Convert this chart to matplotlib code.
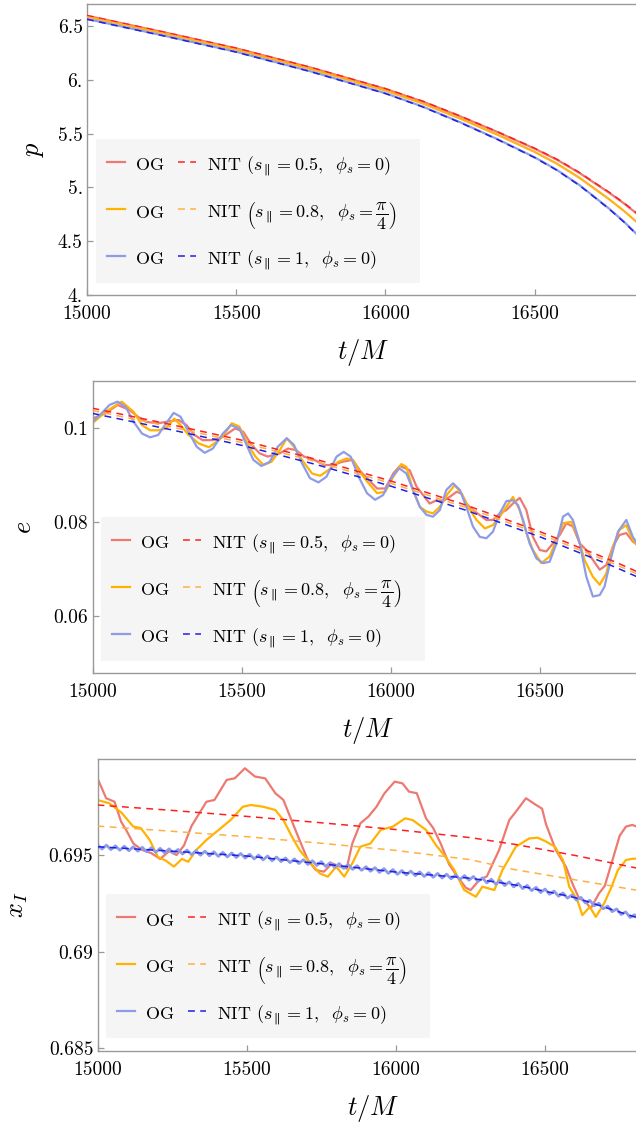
import numpy as np
import matplotlib
matplotlib.use('Agg')
import matplotlib.pyplot as plt
from matplotlib.lines import Line2D
from matplotlib.patches import Rectangle

plt.rcParams['font.family'] = 'serif'
plt.rcParams['font.serif'] = ['cmr10', 'DejaVu Serif']
plt.rcParams['mathtext.fontset'] = 'cm'
plt.rcParams['axes.formatter.use_mathtext'] = True

# ---------------- data: p panel ----------------
t_p = [15000, 15250, 15500, 15750, 16000, 16125, 16250, 16375, 16500, 16575, 16650, 16700, 16750, 16800, 16850]
p_og_red = [6.595, 6.446, 6.292, 6.113, 5.915, 5.798, 5.661, 5.515, 5.36, 5.257, 5.135, 5.042, 4.95, 4.85, 4.74]
p_og_orange = [6.585, 6.435, 6.28, 6.10, 5.90, 5.78, 5.64, 5.49, 5.33, 5.22, 5.09, 4.99, 4.89, 4.78, 4.66]
p_og_blue = [6.565, 6.415, 6.26, 6.078, 5.875, 5.751, 5.606, 5.449, 5.28, 5.162, 5.022, 4.913, 4.802, 4.68, 4.545]
p_nit_red = [6.597, 6.448, 6.294, 6.115, 5.918, 5.801, 5.664, 5.518, 5.364, 5.261, 5.139, 5.046, 4.955, 4.855, 4.745]
p_nit_orange = [6.585, 6.435, 6.28, 6.10, 5.90, 5.78, 5.64, 5.49, 5.33, 5.22, 5.09, 4.99, 4.89, 4.78, 4.66]
p_nit_blue = [6.562, 6.412, 6.257, 6.075, 5.872, 5.748, 5.603, 5.446, 5.277, 5.159, 5.019, 4.910, 4.799, 4.677, 4.542]

# ---------------- data: e panel ----------------
t_e_nit = [15000, 15250, 15500, 15750, 16000, 16250, 16500, 16750, 16850]
e_nit_red = [0.1043, 0.1010, 0.0975, 0.0934, 0.0888, 0.0837, 0.0780, 0.0716, 0.0688]
e_nit_orange = [0.1038, 0.1005, 0.0970, 0.0929, 0.0883, 0.0832, 0.0775, 0.0711, 0.0683]
e_nit_blue = [0.1032, 0.0999, 0.0964, 0.0923, 0.0877, 0.0826, 0.0769, 0.0705, 0.0677]

t_e_blue = [15000, 15030, 15057, 15084, 15111, 15138, 15166, 15193, 15220, 15247,
            15272, 15295, 15322, 15349, 15376, 15403, 15437, 15464, 15492, 15519,
            15539, 15566, 15594, 15621, 15651, 15675, 15702, 15729, 15757, 15784,
            15818, 15842, 15865, 15892, 15920, 15947, 15974, 16001, 16028, 16052,
            16074, 16097, 16119, 16141, 16164, 16186, 16208, 16231, 16253, 16275,
            16298, 16320, 16342, 16365, 16387, 16409, 16426, 16443, 16465, 16488,
            16510, 16532, 16555, 16577, 16594, 16610, 16633, 16655, 16677, 16700,
            16716, 16739, 16761, 16789, 16811, 16840]
e_og_blue = [0.1014, 0.1032, 0.1050, 0.1057, 0.1046, 0.1014, 0.0989, 0.0981, 0.0986, 0.1011,
             0.1033, 0.1025, 0.0993, 0.0961, 0.0948, 0.0957, 0.0989, 0.1007, 0.1000, 0.0961,
             0.0933, 0.0920, 0.0929, 0.0961, 0.0979, 0.0965, 0.0926, 0.0894, 0.0885, 0.0897,
             0.0940, 0.0950, 0.0940, 0.0897, 0.0862, 0.0848, 0.0858, 0.0894, 0.0915, 0.0904,
             0.0869, 0.0833, 0.0816, 0.0812, 0.0826, 0.0869, 0.0883, 0.0869, 0.0833, 0.0791,
             0.0769, 0.0766, 0.0780, 0.0819, 0.0845, 0.0847, 0.0837, 0.0805, 0.0755, 0.0723,
             0.0713, 0.0716, 0.0755, 0.0812, 0.0819, 0.0805, 0.0755, 0.0684, 0.0642, 0.0645,
             0.0663, 0.0727, 0.0780, 0.0805, 0.0769, 0.0740]

t_e_orange = [15000, 15043, 15098, 15138, 15166, 15193, 15220, 15247, 15274, 15295,
              15322, 15356, 15390, 15424, 15451, 15467, 15492, 15519, 15546, 15573,
              15600, 15628, 15651, 15675, 15702, 15736, 15763, 15790, 15824, 15852,
              15872, 15892, 15920, 15954, 15981, 16008, 16035, 16052, 16074, 16097,
              16119, 16141, 16164, 16192, 16214, 16236, 16259, 16287, 16315, 16342,
              16365, 16387, 16409, 16432, 16454, 16476, 16504, 16532, 16555, 16577,
              16605, 16627, 16649, 16677, 16700, 16722, 16744, 16766, 16789, 16811, 16840]
e_og_orange = [0.1011, 0.1035, 0.1057, 0.1035, 0.1007, 0.0996, 0.0996, 0.1000, 0.1021, 0.1007,
               0.0986, 0.0968, 0.0960, 0.0975, 0.0996, 0.1011, 0.1004, 0.0968, 0.0940, 0.0922,
               0.0929, 0.0954, 0.0979, 0.0961, 0.0933, 0.0904, 0.0899, 0.0911, 0.0929, 0.0936,
               0.0933, 0.0911, 0.0887, 0.0862, 0.0865, 0.0897, 0.0924, 0.0918, 0.0869, 0.0833,
               0.0823, 0.0819, 0.0833, 0.0862, 0.0879, 0.0862, 0.0833, 0.0805, 0.0787, 0.0794,
               0.0812, 0.0833, 0.0854, 0.0826, 0.0777, 0.0741, 0.0713, 0.0727, 0.0762, 0.0798,
               0.0801, 0.0769, 0.0720, 0.0684, 0.0667, 0.0691, 0.0748, 0.0784, 0.0794, 0.0762, 0.0740]

t_e_red = [15000, 15043, 15084, 15125, 15152, 15179, 15220, 15247, 15288, 15315,
           15342, 15369, 15403, 15437, 15478, 15505, 15533, 15560, 15587, 15628,
           15655, 15682, 15709, 15743, 15777, 15804, 15838, 15872, 15899, 15926,
           15954, 15981, 16008, 16030, 16063, 16086, 16108, 16130, 16153, 16174,
           16197, 16220, 16237, 16253, 16275, 16320, 16342, 16365, 16387, 16409,
           16432, 16454, 16476, 16499, 16521, 16543, 16566, 16588, 16610, 16633,
           16655, 16677, 16700, 16722, 16744, 16766, 16789, 16811, 16840]
e_og_red = [0.1021, 0.1032, 0.1050, 0.1039, 0.1025, 0.1014, 0.1011, 0.1014, 0.1018, 0.1007,
            0.0986, 0.0975, 0.0975, 0.0982, 0.1000, 0.0993, 0.0965, 0.0947, 0.0940, 0.0947,
            0.0957, 0.0954, 0.0940, 0.0933, 0.0922, 0.0922, 0.0929, 0.0933, 0.0908, 0.0890,
            0.0872, 0.0872, 0.0904, 0.0920, 0.0911, 0.0876, 0.0858, 0.0840, 0.0847, 0.0845,
            0.0854, 0.0865, 0.0861, 0.0840, 0.0826, 0.0805, 0.0805, 0.0819, 0.0826, 0.0840,
            0.0852, 0.0826, 0.0769, 0.0741, 0.0738, 0.0755, 0.0773, 0.0798, 0.0791, 0.0755,
            0.0741, 0.0720, 0.0699, 0.0709, 0.0748, 0.0773, 0.0777, 0.0759, 0.0745]

# ---------------- data: x_I panel ----------------
t_x_nit = [15000, 15250, 15500, 15750, 16000, 16250, 16400, 16600, 16800, 16850]
x_nit_red = [0.69759, 0.69731, 0.69700, 0.69667, 0.69632, 0.69590, 0.69555, 0.69498, 0.69435, 0.69420]
x_nit_orange = [0.69650, 0.69623, 0.69595, 0.69561, 0.69524, 0.69476, 0.69424, 0.69372, 0.69320, 0.69305]
x_nit_blue = [0.69543, 0.69520, 0.69495, 0.69455, 0.69412, 0.69380, 0.69345, 0.69280, 0.69180, 0.69160]

t_x_red = [15000, 15029, 15057, 15079, 15096, 15120, 15150, 15180, 15210, 15240,
           15265, 15290, 15315, 15335, 15365, 15392, 15433, 15460, 15494, 15528,
           15562, 15596, 15623, 15650, 15677, 15705, 15732, 15759, 15786, 15813,
           15835, 15854, 15881, 15908, 15935, 15962, 15996, 16022, 16044, 16070,
           16101, 16125, 16150, 16179, 16210, 16235, 16251, 16279, 16305, 16329,
           16346, 16380, 16400, 16436, 16469, 16490, 16503, 16536, 16570, 16595,
           16614, 16635, 16653, 16681, 16700, 16726, 16750, 16771, 16792, 16820, 16845]
x_og_red = [0.69897, 0.69794, 0.69776, 0.69673, 0.69630, 0.69560, 0.69526, 0.69510, 0.69480, 0.69520,
            0.69500, 0.69550, 0.69650, 0.69700, 0.69776, 0.69785, 0.69889, 0.69897, 0.69949, 0.69906,
            0.69897, 0.69820, 0.69785, 0.69681, 0.69578, 0.69474, 0.69422, 0.69414, 0.69457, 0.69440,
            0.69430, 0.69560, 0.69664, 0.69699, 0.69750, 0.69820, 0.69880, 0.69871, 0.69828, 0.69820,
            0.69690, 0.69640, 0.69560, 0.69450, 0.69380, 0.69330, 0.69319, 0.69370, 0.69390, 0.69470,
            0.69526, 0.69681, 0.69720, 0.69794, 0.69760, 0.69740, 0.69660, 0.69526, 0.69439, 0.69340,
            0.69276, 0.69260, 0.69224, 0.69302, 0.69340, 0.69474, 0.69600, 0.69647, 0.69656, 0.69640, 0.69640]

t_x_orange = [15000, 15039, 15080, 15120, 15145, 15175, 15202, 15230, 15256, 15283,
              15304, 15331, 15365, 15406, 15446, 15487, 15514, 15555, 15596, 15623,
              15650, 15677, 15705, 15745, 15772, 15800, 15827, 15854, 15881, 15915,
              15949, 15990, 16031, 16056, 16101, 16134, 16166, 16196, 16229, 16268,
              16290, 16330, 16357, 16402, 16447, 16475, 16503, 16533, 16560, 16581,
              16608, 16625, 16650, 16670, 16698, 16723, 16744, 16771, 16790, 16820, 16845]
x_og_orange = [0.69785, 0.69768, 0.69720, 0.69647, 0.69640, 0.69578, 0.69491, 0.69470, 0.69440, 0.69480,
               0.69465, 0.69526, 0.69578, 0.69630, 0.69681, 0.69750, 0.69759, 0.69750, 0.69733, 0.69681,
               0.69600, 0.69526, 0.69474, 0.69405, 0.69388, 0.69440, 0.69388, 0.69457, 0.69543, 0.69560,
               0.69630, 0.69647, 0.69690, 0.69681, 0.69630, 0.69552, 0.69491, 0.69422, 0.69319, 0.69284,
               0.69336, 0.69319, 0.69422, 0.69543, 0.69586, 0.69590, 0.69570, 0.69543, 0.69474, 0.69336,
               0.69267, 0.69189, 0.69232, 0.69180, 0.69250, 0.69336, 0.69422, 0.69474, 0.69480, 0.69483, 0.69485]

t_x_blue = list(range(15000, 16846, 15))
x_og_blue = [0.69554, 0.69531, 0.69551, 0.69528, 0.69548, 0.69525, 0.69546, 0.69522, 0.69543, 0.69520,
             0.69540, 0.69517, 0.69538, 0.69514, 0.69535, 0.69511, 0.69532, 0.69509, 0.69529, 0.69505,
             0.69526, 0.69502, 0.69523, 0.69499, 0.69520, 0.69496, 0.69517, 0.69493, 0.69514, 0.69490,
             0.69511, 0.69487, 0.69508, 0.69484, 0.69504, 0.69480, 0.69500, 0.69475, 0.69495, 0.69470,
             0.69490, 0.69466, 0.69485, 0.69461, 0.69480, 0.69456, 0.69476, 0.69451, 0.69471, 0.69446,
             0.69466, 0.69441, 0.69461, 0.69436, 0.69456, 0.69431, 0.69451, 0.69426, 0.69445, 0.69421,
             0.69440, 0.69416, 0.69435, 0.69410, 0.69430, 0.69405, 0.69425, 0.69400, 0.69420, 0.69397,
             0.69417, 0.69393, 0.69413, 0.69389, 0.69409, 0.69385, 0.69405, 0.69381, 0.69401, 0.69377,
             0.69397, 0.69374, 0.69394, 0.69370, 0.69389, 0.69363, 0.69382, 0.69356, 0.69375, 0.69349,
             0.69368, 0.69342, 0.69361, 0.69335, 0.69353, 0.69326, 0.69343, 0.69316, 0.69333, 0.69306,
             0.69324, 0.69297, 0.69314, 0.69287, 0.69304, 0.69277, 0.69294, 0.69267, 0.69281, 0.69252,
             0.69266, 0.69237, 0.69251, 0.69222, 0.69236, 0.69207, 0.69221, 0.69192, 0.69206, 0.69177,
             0.69191, 0.69163, 0.69179, 0.69151]

# ---------------- labels ----------------
og_label = 'OG'
nit_labels = [r'NIT $(s_{\parallel}=0.5,\ \ \phi_s=0)$',
              r'NIT $\left(s_{\parallel}=0.8,\ \ \phi_s=\dfrac{\pi}{4}\right)$',
              r'NIT $(s_{\parallel}=1,\ \ \phi_s=0)$']
xticks = [15000, 15500, 16000, 16500]
xticklabels = ['15000', '15500', '16000', '16500']

c_og = ['#ec7a72', '#ffb300', '#8e9ce8']
c_nit = ['#ff1f1f', '#ffb040', '#1f1fe6']

W, H = 636, 1127
AXW = 552
fig = plt.figure(figsize=(W / 100, H / 100), dpi=100)


def make_ax(left_px, top_px, bottom_px):
    return fig.add_axes([left_px / W, 1 - bottom_px / H, AXW / W, (bottom_px - top_px) / H])


def draw(ax, og_sets, nit_t, nit_sets, lw_og=(1.6, 1.6, 1.6)):
    for (tt, vv), c, lw in zip(og_sets, c_og, lw_og):
        ax.plot(tt, vv, color=c, lw=lw, solid_joinstyle='round', zorder=2)
    for vv, c in zip(nit_sets, c_nit):
        ax.plot(nit_t, vv, color=c, lw=1.1, dashes=(4.5, 3.5), zorder=3)


def style(ax, yticks, yticklabels, ylim, ylab, ylab_x, h_px):
    ax.set_xlim(15000, 16850)
    ax.set_ylim(*ylim)
    ax.set_xticks(xticks)
    ax.set_xticklabels(xticklabels)
    ax.set_yticks(yticks)
    ax.set_yticklabels(yticklabels)
    for s in ax.spines.values():
        s.set_color('#999999')
        s.set_linewidth(1.0)
    ax.tick_params(axis='both', direction='in', length=4, width=0.9, color='#999999',
                   labelsize=14)
    ax.tick_params(axis='x', pad=7)
    ax.tick_params(axis='y', pad=3)
    xl = ax.set_xlabel(r'$t/M$', fontsize=19)
    xl.set_va('center')
    ax.xaxis.set_label_coords(0.5, -57 / h_px)
    yl = ax.set_ylabel(ylab, fontsize=19)
    yl.set_va('center')
    ax.yaxis.set_label_coords(ylab_x, 0.5)


def legend(ax, ax_left, ax_bottom, ax_h, box_left, box_top):
    fx = lambda px: (px - ax_left) / AXW
    fy = lambda py: (ax_bottom - py) / ax_h
    ax.add_patch(Rectangle((fx(box_left), fy(box_top + 144)), 324 / AXW, 144 / ax_h,
                           transform=ax.transAxes, facecolor='#f5f5f5', edgecolor='none',
                           zorder=5, clip_on=False))
    baselines = [31.5, 78.5, 125.3]
    for i in range(3):
        yb = box_top + baselines[i]
        yh = yb - 8.5
        ax.add_line(Line2D([fx(box_left + 10.7), fx(box_left + 29)], [fy(yh), fy(yh)],
                           transform=ax.transAxes, color=c_og[i], lw=1.6, zorder=6, clip_on=False))
        ax.text(fx(box_left + 39.7), fy(yb), og_label, transform=ax.transAxes, fontsize=13,
                va='baseline', ha='left', zorder=6)
        ax.add_line(Line2D([fx(box_left + 82), fx(box_left + 100)], [fy(yh), fy(yh)],
                           transform=ax.transAxes, color=c_nit[i], lw=1.1, dashes=(4.5, 3.5),
                           zorder=6, clip_on=False))
        ax.text(fx(box_left + 110.7), fy(yb), nit_labels[i], transform=ax.transAxes,
                fontsize=13, va='baseline', ha='left', zorder=6)


# top panel
ax1 = make_ax(87, 4, 295)
draw(ax1, [(t_p, p_og_red), (t_p, p_og_orange), (t_p, p_og_blue)], t_p,
     [p_nit_red, p_nit_orange, p_nit_blue])
style(ax1, [4, 4.5, 5, 5.5, 6, 6.5], ['4.', '4.5', '5.', '5.5', '6.', '6.5'],
      (4.0, 6.704), r'$p$', -0.096, 291)
legend(ax1, 87, 295, 291, 96, 139)

# middle panel
ax2 = make_ax(92.5, 381, 673)
draw(ax2, [(t_e_red, e_og_red), (t_e_orange, e_og_orange), (t_e_blue, e_og_blue)],
     t_e_nit, [e_nit_red, e_nit_orange, e_nit_blue])
style(ax2, [0.06, 0.08, 0.1], ['0.06', '0.08', '0.1'], (0.0479, 0.1101), r'$e$', -0.124, 292)
legend(ax2, 92.5, 673, 292, 101, 517)

# bottom panel
ax3 = make_ax(97.5, 759, 1051)
draw(ax3, [(t_x_red, x_og_red), (t_x_orange, x_og_orange), (t_x_blue, x_og_blue)],
     t_x_nit, [x_nit_red, x_nit_orange, x_nit_blue], lw_og=(1.6, 1.6, 2.0))
style(ax3, [0.685, 0.69, 0.695], ['0.685', '0.69', '0.695'], (0.68486, 0.69997),
      r'$x_I$', -0.144, 292)
legend(ax3, 97.5, 1051, 292, 106, 894)

fig.savefig('out.png', dpi=100)
